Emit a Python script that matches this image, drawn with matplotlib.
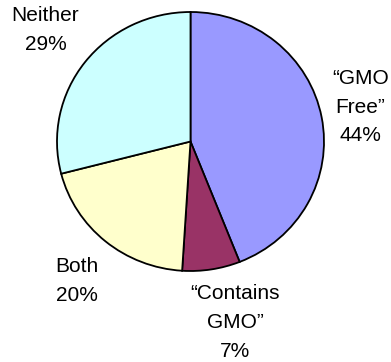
import matplotlib
matplotlib.use('Agg')
import matplotlib.pyplot as plt

# Survey shares, clockwise from 12 o'clock
labels = ['\u201cGMO\nFree\u201d', '\u201cContains\nGMO\u201d', 'Both', 'Neither']
values = [44, 7, 20, 29]
colors = ['#9999FF', '#993366', '#FFFFCC', '#CCFFFF']

# label anchor points in data units of the pie axes
label_x = [1.273, 0.333, -0.850, -1.086]
label_y = [0.266, -1.40, -1.077, 0.861]

plt.rcParams['font.family'] = ['Liberation Sans', 'DejaVu Sans']

W, H = 391, 362
fig = plt.figure(figsize=(W / 100, H / 100), dpi=100)
ax = fig.add_axes([57 / W, (H - 271) / H, 267 / W, 259 / H])

ax.pie(values, colors=colors, startangle=90, counterclock=False,
       wedgeprops=dict(edgecolor='black', linewidth=1.3))
ax.set_aspect('auto')
ax.set_xlim(-1, 1)
ax.set_ylim(-1, 1)

for lab, v, x, y in zip(labels, values, label_x, label_y):
    ax.text(x, y, f'{lab}\n{v}%', ha='center', va='center', fontsize=15,
            linespacing=1.66, color='black', clip_on=False)

ax.axis('off')
fig.savefig('out.png', dpi=100)
